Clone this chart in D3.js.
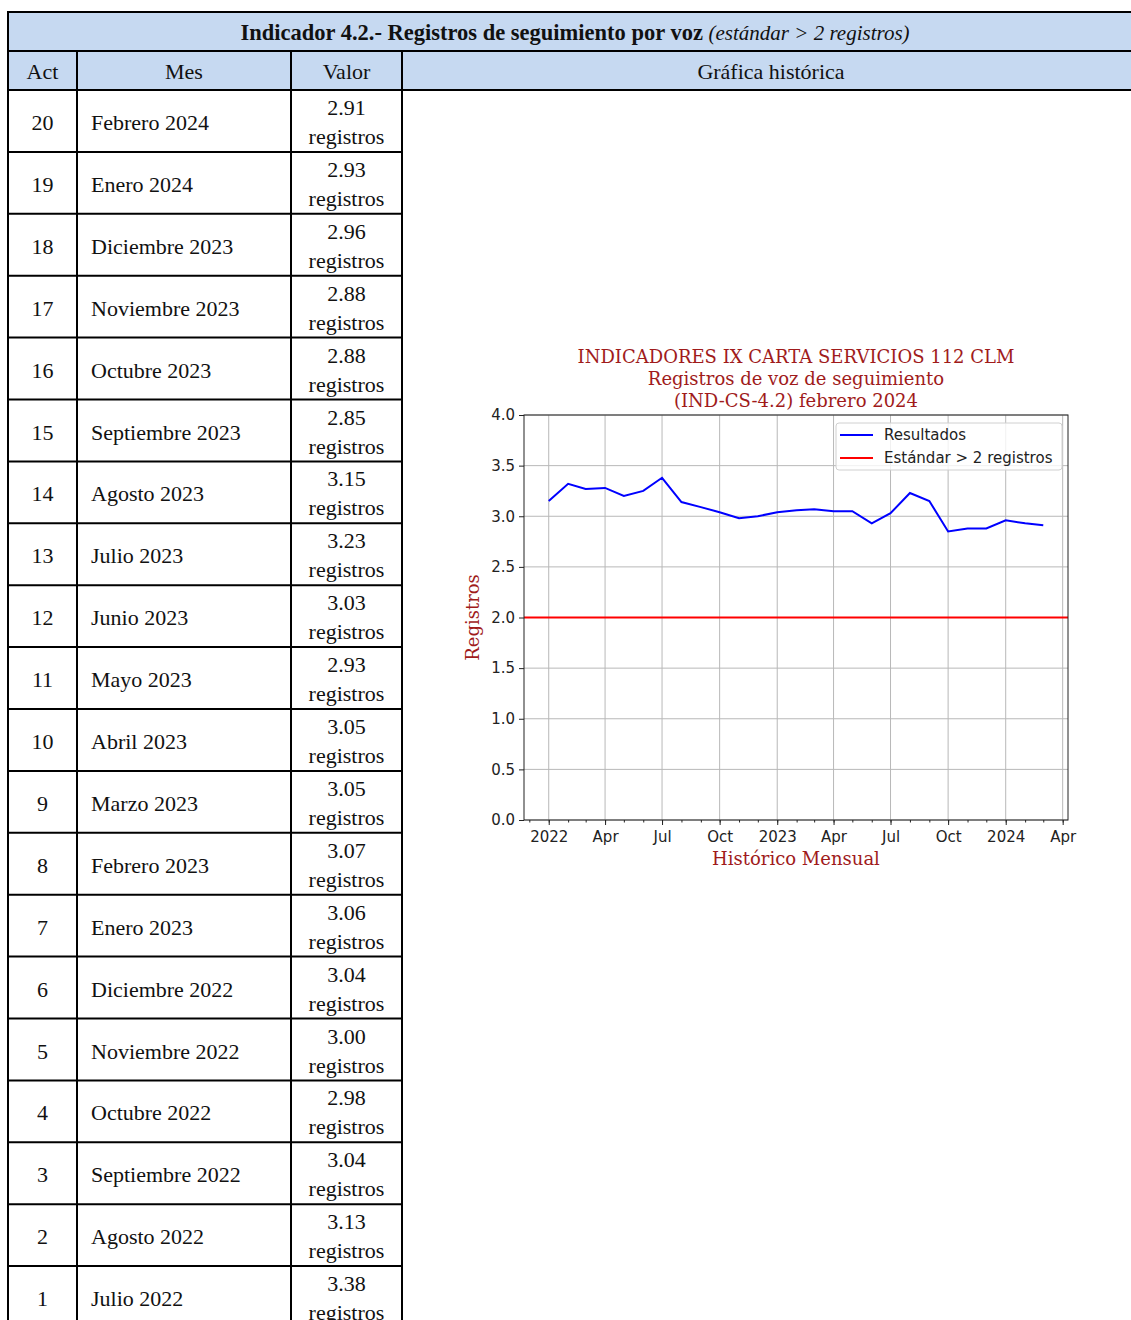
<!DOCTYPE html>
<html>
<head>
<meta charset="utf-8">
<script src="https://d3js.org/d3.v7.min.js"></script>
<style>
  body { margin: 0; background: #fff; }
  svg text.cell { font-family: "Liberation Serif", serif; font-size: 22px; fill: #111; }
  svg .tick text { font-family: "DejaVu Sans", sans-serif; font-size: 15px; fill: #222; }
  .chartTitle { font-family: "DejaVu Serif", serif; font-size: 18px; fill: #a01b1b; }
</style>
</head>
<body>
<svg id="page" width="1131" height="1320"></svg>
<script>
// table contents
const actNumbers = [20, 19, 18, 17, 16, 15, 14, 13, 12, 11, 10, 9, 8, 7, 6, 5, 4, 3, 2, 1];
const monthNames = ["Febrero 2024", "Enero 2024", "Diciembre 2023", "Noviembre 2023", "Octubre 2023",
  "Septiembre 2023", "Agosto 2023", "Julio 2023", "Junio 2023", "Mayo 2023", "Abril 2023",
  "Marzo 2023", "Febrero 2023", "Enero 2023", "Diciembre 2022", "Noviembre 2022",
  "Octubre 2022", "Septiembre 2022", "Agosto 2022", "Julio 2022"];
const tableValues = ["2.91", "2.93", "2.96", "2.88", "2.88", "2.85", "3.15", "3.23", "3.03", "2.93",
  "3.05", "3.05", "3.07", "3.06", "3.04", "3.00", "2.98", "3.04", "3.13", "3.38"];
const headers = ["Act", "Mes", "Valor", "Gráfica histórica"];

// chart series (as plotted)
const chartMonths = ["2022-01", "2022-02", "2022-03", "2022-04", "2022-05", "2022-06", "2022-07",
  "2022-08", "2022-09", "2022-10", "2022-11", "2022-12", "2023-01", "2023-02", "2023-03",
  "2023-04", "2023-05", "2023-06", "2023-07", "2023-08", "2023-09", "2023-10", "2023-11",
  "2023-12", "2024-01", "2024-02", "2024-03"];
const chartValues = [3.15, 3.32, 3.27, 3.28, 3.20, 3.25, 3.38, 3.14, 3.09, 3.04, 2.98, 3.00,
  3.04, 3.06, 3.07, 3.05, 3.05, 2.93, 3.03, 3.23, 3.15, 2.85, 2.88, 2.88, 2.96, 2.93, 2.91];
const standardValue = 2;
const yTicks = [0, 0.5, 1, 1.5, 2, 2.5, 3, 3.5, 4];
const legendLabels = ["Resultados", "Estándar > 2 registros"];

const svg = d3.select("#page");

// ---------- table ----------
const colX = [8, 77, 291, 402, 1140];
const blue = "#c6d9f1";
const rowTop = 90, rowH = 61.9;
const rowY = d3.scaleBand().domain(d3.range(actNumbers.length))
  .range([rowTop, rowTop + rowH * actNumbers.length]);

svg.append("rect").attr("x", colX[0]).attr("y", 12).attr("width", colX[4] - colX[0]).attr("height", 78)
  .attr("fill", blue);

const title = svg.append("text").attr("class", "cell").attr("x", 575).attr("y", 40)
  .attr("text-anchor", "middle");
title.append("tspan").attr("font-weight", "bold").attr("font-size", "22.5px")
  .text("Indicador 4.2.- Registros de seguimiento por voz ");
title.append("tspan").attr("font-style", "italic").attr("font-size", "21px").text("(estándar > 2 registros)");

svg.selectAll(".hdr").data(headers).enter().append("text")
  .attr("class", "cell hdr")
  .attr("x", (d, i) => (colX[i] + colX[i + 1]) / 2)
  .attr("y", 79)
  .attr("text-anchor", "middle")
  .text(d => d);

const rows = svg.selectAll(".row").data(actNumbers).enter().append("g")
  .attr("class", "row")
  .attr("transform", (d, i) => "translate(0," + rowY(i) + ")");

rows.append("text").attr("class", "cell").attr("x", 42.5).attr("y", 40)
  .attr("text-anchor", "middle").text(d => d);
rows.append("text").attr("class", "cell").attr("x", 91).attr("y", 40)
  .text((d, i) => monthNames[i]);
rows.append("text").attr("class", "cell").attr("x", 346.5).attr("y", 25)
  .attr("text-anchor", "middle").text((d, i) => tableValues[i]);
rows.append("text").attr("class", "cell").attr("x", 346.5).attr("y", 54)
  .attr("text-anchor", "middle").text("registros");

// borders
const lines = svg.append("g").attr("stroke", "#000").attr("stroke-width", 2);
[12, 51, 90].forEach(yy => lines.append("line").attr("x1", colX[0] - 1).attr("x2", colX[4]).attr("y1", yy).attr("y2", yy));
d3.range(1, actNumbers.length + 1).forEach(i => {
  const yy = rowY(0) + i * rowY.step();
  lines.append("line").attr("x1", colX[0] - 1).attr("x2", colX[3] + 1).attr("y1", yy).attr("y2", yy);
});
lines.append("line").attr("x1", colX[0]).attr("x2", colX[0]).attr("y1", 11).attr("y2", 1320);
lines.append("line").attr("x1", colX[4]).attr("x2", colX[4]).attr("y1", 11).attr("y2", 1320);
[1, 2, 3].forEach(c => lines.append("line").attr("x1", colX[c]).attr("x2", colX[c]).attr("y1", 51).attr("y2", 1320));

// ---------- chart ----------
const pLeft = 524, pRight = 1068, pTop = 415, pBottom = 820;
const parse = d3.timeParse("%Y-%m");
const dates = chartMonths.map(parse);
const ext = d3.extent(dates);
const pad = (ext[1] - ext[0]) * 0.05;

const x = d3.scaleTime().domain([new Date(+ext[0] - pad), new Date(+ext[1] + pad)]).range([pLeft, pRight]);
const y = d3.scaleLinear().domain([0, 4]).range([pBottom, pTop]);

const majors = x.ticks(d3.timeMonth.every(3));

const grid = svg.append("g").attr("stroke", "#b8b8b8").attr("stroke-width", 1);
grid.selectAll(".gx").data(majors).enter().append("line")
  .attr("x1", d => x(d)).attr("x2", d => x(d)).attr("y1", pTop).attr("y2", pBottom);
grid.selectAll(".gy").data(yTicks).enter().append("line")
  .attr("x1", pLeft).attr("x2", pRight).attr("y1", d => y(d)).attr("y2", d => y(d));

svg.append("line").attr("x1", pLeft).attr("x2", pRight)
  .attr("y1", y(standardValue)).attr("y2", y(standardValue))
  .attr("stroke", "#ff0000").attr("stroke-width", 2);

const line = d3.line().x((d, i) => x(dates[i])).y(d => y(d));
svg.append("path").datum(chartValues).attr("d", line)
  .attr("fill", "none").attr("stroke", "#0000ff").attr("stroke-width", 2);

svg.append("rect").attr("x", pLeft).attr("y", pTop).attr("width", pRight - pLeft).attr("height", pBottom - pTop)
  .attr("fill", "none").attr("stroke", "#222").attr("stroke-width", 1);

const yAxis = svg.append("g").attr("transform", "translate(" + pLeft + ",0)")
  .call(d3.axisLeft(y).tickValues(yTicks).tickFormat(d3.format(".1f")).tickSize(5).tickPadding(4));
yAxis.select(".domain").remove();

const xAxis = svg.append("g").attr("transform", "translate(0," + pBottom + ")")
  .call(d3.axisBottom(x).tickValues(majors).tickSize(5).tickPadding(6)
    .tickFormat(d => d.getMonth() === 0 ? d3.timeFormat("%Y")(d) : d3.timeFormat("%b")(d)));
xAxis.select(".domain").remove();

const minor = svg.append("g").attr("transform", "translate(0," + pBottom + ")")
  .call(d3.axisBottom(x).ticks(d3.timeMonth.every(1)).tickSize(2.5).tickFormat(""));
minor.select(".domain").remove();

svg.selectAll(".tick line").attr("stroke", "#222");

// titles
const cx = (pLeft + pRight) / 2;
const tt = svg.append("text").attr("class", "chartTitle").attr("text-anchor", "middle");
["INDICADORES IX CARTA SERVICIOS 112 CLM", "Registros de voz de seguimiento", "(IND-CS-4.2) febrero 2024"]
  .forEach((s, i) => tt.append("tspan").attr("x", cx).attr("y", 363 + i * 22).text(s));

svg.append("text").attr("class", "chartTitle").attr("text-anchor", "middle")
  .attr("x", cx).attr("y", 865).text("Histórico Mensual");

svg.append("text").attr("class", "chartTitle").attr("text-anchor", "middle")
  .attr("transform", "translate(479," + (pTop + pBottom) / 2 + ") rotate(-90)")
  .text("Registros");

// legend
const lg = svg.append("g").attr("transform", "translate(836,423)");
lg.append("rect").attr("width", 226).attr("height", 47).attr("rx", 3)
  .attr("fill", "#fff").attr("fill-opacity", 0.8).attr("stroke", "#d0d0d0");
const colors = ["#0000ff", "#ff0000"];
legendLabels.forEach((lab, i) => {
  lg.append("line").attr("x1", 4).attr("x2", 37).attr("y1", 12 + i * 23).attr("y2", 12 + i * 23)
    .attr("stroke", colors[i]).attr("stroke-width", 2);
  lg.append("text").attr("x", 48).attr("y", 17 + i * 23)
    .style("font-family", "DejaVu Sans, sans-serif").style("font-size", "15px").attr("fill", "#222")
    .text(lab);
});
</script>
</body>
</html>
